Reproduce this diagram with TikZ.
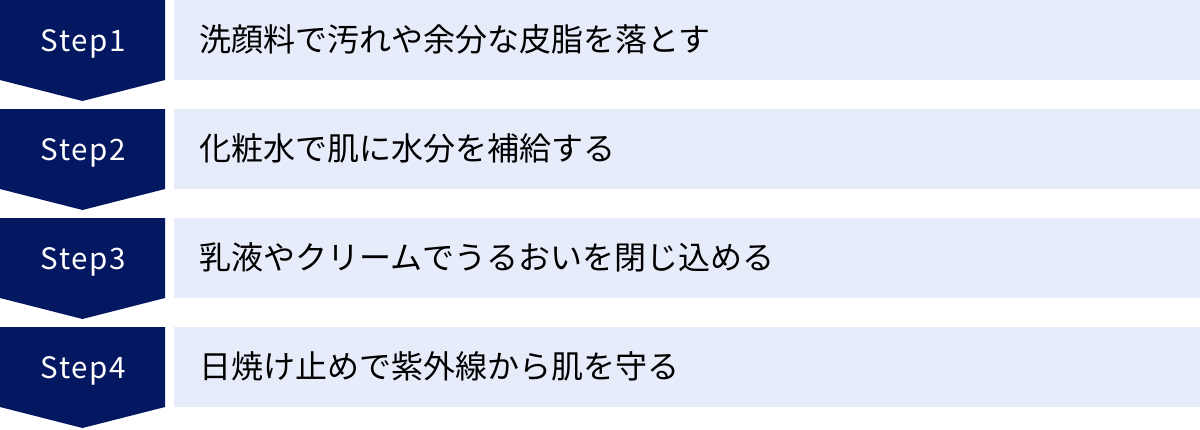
\documentclass[tikz,border=0pt]{standalone}
\usepackage{fontspec}
\setmainfont{Noto Sans CJK JP}
\newfontfamily\stepfont[LetterSpace=6]{Noto Sans CJK JP}
\usetikzlibrary{positioning}
\definecolor{navy1}{RGB}{4,23,97}
\definecolor{pale1}{RGB}{230,236,250}

\begin{document}
\begin{tikzpicture}[x=1pt, y=-1pt]
    \useasboundingbox (0,0) rectangle (1200,429);
    \foreach \n/\t in {1/洗顔料で汚れや余分な皮脂を落とす,
                       2/化粧水で肌に水分を補給する,
                       3/乳液やクリームでうるおいを閉じ込める,
                       4/日焼け止めで紫外線から肌を守る}
    {
        \pgfmathsetmacro{\y}{109*(\n-1)}
        \fill[navy1] (0,\y) -- (165,\y) -- (165,\y+80) -- (82.5,\y+101) -- (0,\y+80) -- cycle;
        \fill[pale1] (174,\y) rectangle (1200,\y+80);
        \node[anchor=base, text=white, inner sep=0, font=\stepfont\fontsize{29.5}{34}\selectfont] (step\n) at (83.5,\y+51.5) {Step\n};
        \node[anchor=base west, inner sep=0, text=black, font=\fontsize{32}{38}\selectfont] (text\n) at (199,\y+51) {\t};
    }
\end{tikzpicture}
\end{document}
